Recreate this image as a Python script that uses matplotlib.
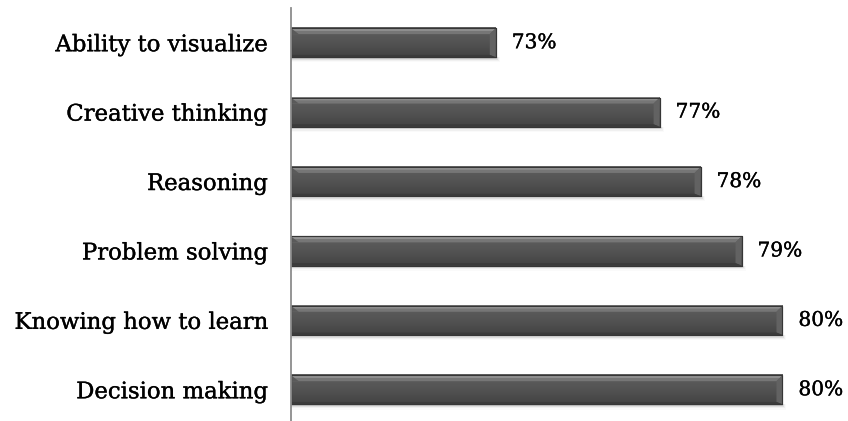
import matplotlib
matplotlib.use("Agg")
import matplotlib.pyplot as plt
import matplotlib.patches as patches
import matplotlib.patheffects as pe
from matplotlib.colors import LinearSegmentedColormap
import numpy as np

plt.rcParams["font.family"] = "serif"
plt.rcParams["font.serif"] = ["DejaVu Serif"]

# skills, bottom to top
skills = ["Decision making", "Knowing how to learn", "Problem solving",
          "Reasoning", "Creative thinking", "Ability to visualize"]
percent = [80, 80, 79, 78, 77, 73]
value_labels = ["80%", "80%", "79%", "78%", "77%", "73%"]

W, H, DPI = 848, 421, 100
fig = plt.figure(figsize=(W / DPI, H / DPI), dpi=DPI)
ax_left, ax_top = 291, 8
ax = fig.add_axes([ax_left / W, 0, (W - ax_left) / W, (H - ax_top) / H])

x0, x1 = 68, 81.6
y0, y1 = -0.45, 5.5
ax.set_xlim(x0, x1)
ax.set_ylim(y0, y1)

# pixel -> data unit helpers for the bevel sizes
px_x = (x1 - x0) / (W - ax_left)
px_y = (y1 - y0) / (H - ax_top)

body_cmap = LinearSegmentedColormap.from_list("body", ["#434343", "#535353", "#606060"])
ink = [pe.withStroke(linewidth=0.25, foreground="black")]

bar_h = 0.42
ypos = np.arange(len(skills))

bars = ax.barh(ypos, percent, height=bar_h, color="#535353",
               edgecolor="#363636", linewidth=0.8, zorder=3)

grad = np.linspace(0, 1, 64).reshape(-1, 1)
for bar, y, v, lab in zip(bars, ypos, percent, value_labels):
    top = y + bar_h / 2
    bot = y - bar_h / 2

    # soft drop shadow under the bar
    for k, a in enumerate([0.10, 0.07, 0.04, 0.02]):
        off = (k + 1) * px_y * 1.3
        sh = patches.Rectangle((x0, bot - off), v - x0 + px_x * (k + 1), off,
                               facecolor="black", alpha=a, lw=0, zorder=2)
        ax.add_patch(sh)

    # vertical shading of the bar body
    ax.imshow(grad, extent=(x0, v, bot, top), origin="lower",
              cmap=body_cmap, vmin=0, vmax=1, aspect="auto",
              interpolation="bicubic", zorder=4)

    bw = 6 * px_x
    bh = 6 * px_y
    # top bevel
    ax.add_patch(patches.Polygon(
        [(x0, top), (v, top), (v - bw, top - bh), (x0, top - bh)],
        closed=True, facecolor="#767676", lw=0, zorder=5))
    ax.add_patch(patches.Polygon(
        [(x0, top), (v, top), (v - bw * 0.45, top - bh * 0.45), (x0, top - bh * 0.45)],
        closed=True, facecolor="#939393", lw=0, zorder=5))
    # left corner bevel
    ax.add_patch(patches.Polygon(
        [(x0, top), (x0 + bw * 1.3, top - bh), (x0, top - bh)],
        closed=True, facecolor="#5a5a5a", lw=0, zorder=5))
    # right end bevel
    ax.add_patch(patches.Polygon(
        [(v, top), (v, bot), (v - bw, bot + bh * 0.4), (v - bw, top - bh)],
        closed=True, facecolor="#626262", lw=0, zorder=5))
    # bottom edge
    ax.add_patch(patches.Polygon(
        [(x0, bot), (v, bot), (v - bw, bot + bh * 0.4), (x0, bot + bh * 0.4)],
        closed=True, facecolor="#3b3b3b", lw=0, zorder=5))
    ax.add_patch(patches.Rectangle((x0, bot), v - x0, top - bot, fill=False,
                                   edgecolor="#363636", lw=0.8, zorder=6))

    ax.text(v + 0.39, y, lab, ha="left", va="center", fontsize=14.5,
            color="black", zorder=7, path_effects=ink)

ax.set_yticks(ypos)
ax.set_yticklabels(skills, fontsize=16.4)
for t in ax.get_yticklabels():
    t.set_path_effects(ink)
ax.tick_params(axis="y", length=0, pad=17)
ax.set_xticks([])
for side in ["top", "right", "bottom"]:
    ax.spines[side].set_visible(False)
ax.spines["left"].set_color("#8c8c8c")
ax.spines["left"].set_linewidth(1.3)
ax.spines["left"].set_zorder(8)
ax.set_facecolor("none")

fig.savefig("out.png", dpi=DPI, facecolor="white")
